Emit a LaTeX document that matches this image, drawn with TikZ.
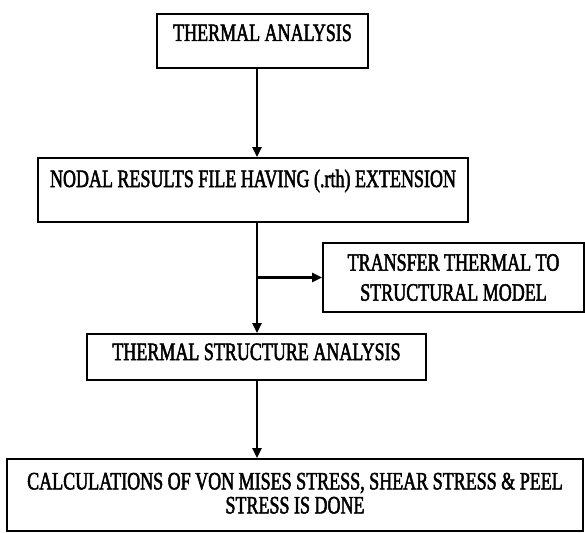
\documentclass[tikz,border=0pt]{standalone}
\usepackage{fontspec}
\setmainfont{Liberation Serif}[FakeStretch=0.72, FakeBold=2]
\usetikzlibrary{arrows.meta}

\begin{document}
\begin{tikzpicture}[x=1pt, y=-1pt,
        stage/.style={draw, line width=1.6pt, inner sep=0pt, align=center, font=\fontsize{25}{30}\selectfont},
        flow/.style={-{Triangle[length=10pt, width=9pt]}, line width=2.4pt}
    ]
        \useasboundingbox (0,0) rectangle (585,532);
        \coordinate (spine) at (257,0);
        \node[stage, minimum width=211pt, minimum height=54pt, text height=16pt, text depth=16pt] (thermal) at (262.5,41) {THERMAL ANALYSIS};
        \node[stage, minimum width=430pt, minimum height=64pt, text height=16pt, text depth=22pt] (nodal) at (253,190) {NODAL RESULTS FILE HAVING (.rth) EXTENSION};
        \node[stage, minimum width=261pt, minimum height=69pt] (transfer) at (453.5,277.5) {TRANSFER THERMAL TO\\STRUCTURAL MODEL};
        \node[stage, minimum width=339pt, minimum height=46pt, text height=16pt, text depth=10pt] (structure) at (256.5,357) {THERMAL STRUCTURE ANALYSIS};
        \node[stage, minimum width=576pt, minimum height=72pt, text height=37pt, font=\fontsize{25}{24}\selectfont] (calc) at (295,495) {CALCULATIONS OF VON MISES STRESS, SHEAR STRESS \& PEEL\\STRESS IS DONE};

        \draw[flow] (thermal.south -| spine) -- (nodal.north -| spine);
        \draw[flow] (nodal.south -| spine) -- (structure.north -| spine);
        \draw[flow] (spine |- transfer.west) -- (transfer.west);
        \draw[flow] (structure.south -| spine) -- (calc.north -| spine);
    \end{tikzpicture}
\end{document}
